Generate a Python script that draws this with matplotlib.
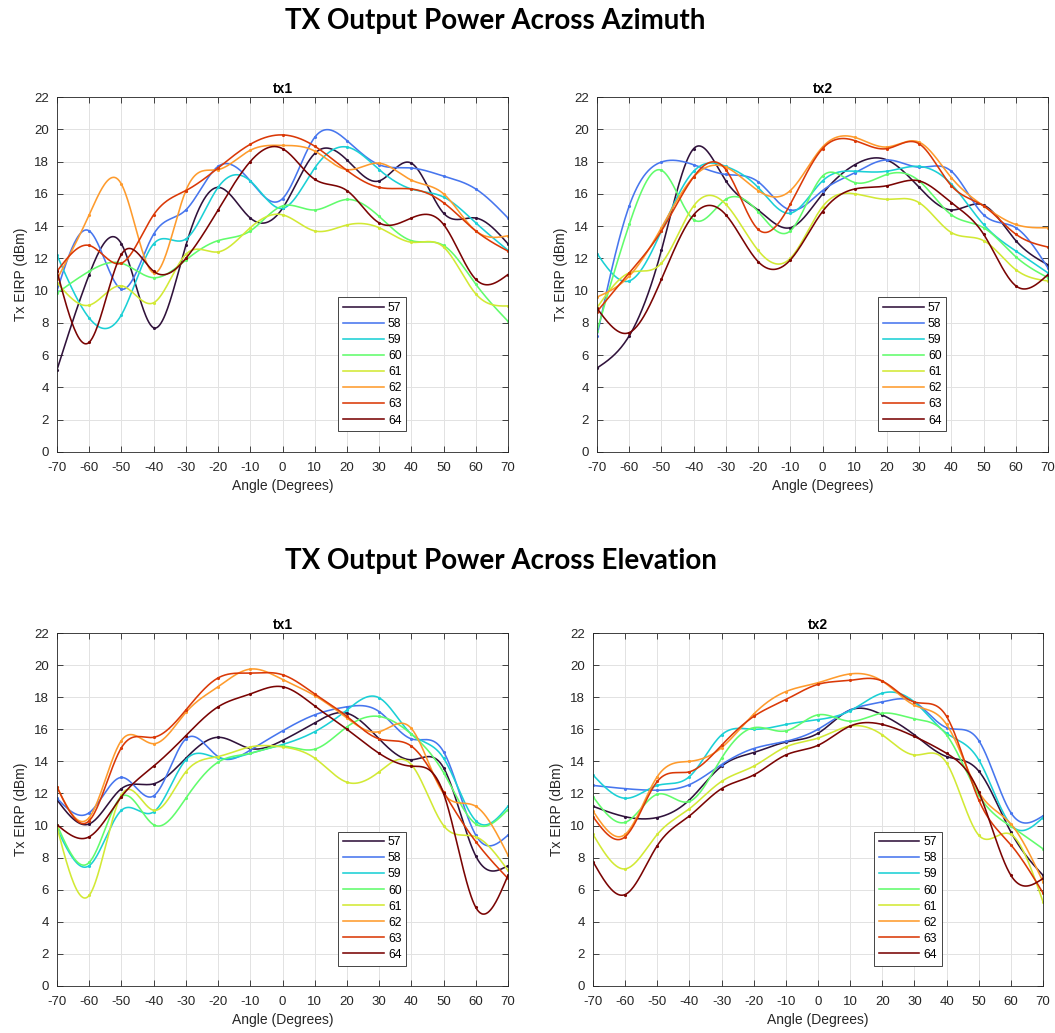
import numpy as np
import matplotlib
matplotlib.use('Agg')
import matplotlib.pyplot as plt

angles = np.arange(-70, 71, 10)
channels = ['57', '58', '59', '60', '61', '62', '63', '64']
panel_titles = ['tx1', 'tx2', 'tx1', 'tx2']
section_titles = ['TX Output Power Across Azimuth', 'TX Output Power Across Elevation']
xticks = np.arange(-70, 71, 10)
yticks = np.arange(0, 23, 2)

az_tx1 = [
    [5.1, 11.0, 12.9, 7.7, 12.8, 16.4, 14.5, 15.1, 18.5, 18.1, 16.8, 17.9, 14.8, 14.5, 12.9],
    [10.0, 13.7, 10.1, 13.5, 15.0, 17.7, 16.8, 15.7, 19.5, 19.3, 17.8, 17.6, 17.1, 16.3, 14.5],
    [12.2, 8.3, 8.5, 12.9, 13.2, 16.4, 16.8, 15.1, 17.6, 18.9, 17.5, 16.3, 15.8, 14.2, 12.5],
    [9.85, 11.2, 11.7, 10.8, 11.9, 13.1, 13.7, 15.25, 15.0, 15.65, 14.6, 13.1, 12.8, 10.4, 8.1],
    [10.5, 9.1, 10.3, 9.25, 12.25, 12.4, 13.9, 14.7, 13.7, 14.07, 13.9, 13.0, 12.7, 9.8, 9.05],
    [10.7, 14.7, 16.6, 11.1, 16.2, 17.5, 18.7, 19.0, 18.65, 17.5, 17.9, 16.85, 16.0, 13.7, 13.4],
    [11.2, 12.8, 11.7, 14.7, 16.2, 17.6, 19.07, 19.65, 18.95, 17.45, 16.4, 16.3, 15.45, 13.7, 12.45],
    [11.2, 6.8, 12.25, 11.2, 12.0, 15.0, 18.0, 18.8, 16.9, 16.2, 14.2, 14.5, 14.1, 10.7, 11.0],
]
az_tx2 = [
    [5.2, 7.2, 12.5, 18.8, 16.8, 15.0, 13.9, 16.0, 17.8, 18.1, 16.4, 15.0, 15.3, 13.1, 11.6],
    [7.2, 15.25, 17.97, 17.8, 17.2, 16.75, 15.0, 16.2, 17.3, 18.1, 17.65, 17.4, 14.7, 13.9, 11.4],
    [12.3, 10.6, 13.7, 17.4, 17.7, 16.4, 14.8, 16.8, 17.4, 17.4, 17.7, 16.6, 14.1, 12.46, 11.1],
    [7.5, 14.1, 17.46, 14.4, 15.66, 14.9, 13.7, 17.1, 16.7, 17.2, 16.8, 14.7, 13.9, 12.1, 10.8],
    [8.95, 11.1, 11.7, 15.25, 15.35, 12.5, 12.0, 15.2, 16.0, 15.66, 15.45, 13.6, 13.1, 11.3, 10.6],
    [9.6, 10.9, 13.9, 17.05, 17.65, 16.2, 16.2, 18.9, 19.5, 18.9, 19.2, 17.0, 15.25, 14.1, 13.9],
    [8.7, 11.1, 13.7, 17.05, 17.5, 13.8, 15.35, 18.8, 19.3, 18.8, 19.1, 16.5, 15.25, 13.5, 12.7],
    [8.9, 7.4, 10.7, 14.7, 14.7, 11.8, 11.9, 14.9, 16.3, 16.5, 16.8, 15.45, 13.5, 10.3, 11.0],
]
el_tx1 = [
    [11.6, 10.1, 12.3, 12.6, 14.2, 15.5, 14.8, 15.3, 16.4, 17.0, 15.4, 14.1, 13.6, 8.1, 7.5],
    [11.7, 10.8, 13.0, 11.85, 15.4, 14.3, 14.7, 15.9, 16.9, 17.4, 17.1, 15.4, 14.6, 9.4, 9.4],
    [9.8, 7.5, 10.95, 10.85, 14.1, 14.2, 14.5, 15.05, 15.85, 17.2, 17.96, 15.7, 14.2, 10.3, 11.2],
    [10.05, 7.7, 11.8, 10.05, 11.7, 13.95, 14.5, 14.95, 14.76, 16.15, 16.8, 15.7, 13.3, 10.1, 11.0],
    [9.9, 5.65, 11.9, 10.95, 13.35, 14.3, 14.9, 14.9, 14.2, 12.7, 13.35, 13.8, 10.0, 9.3, 7.2],
    [12.4, 10.5, 15.3, 15.1, 17.05, 18.65, 19.75, 19.1, 18.1, 16.7, 15.85, 16.05, 12.0, 11.2, 8.15],
    [12.4, 10.3, 14.85, 15.5, 17.2, 19.2, 19.5, 19.4, 18.2, 16.8, 15.4, 14.95, 12.1, 9.0, 6.7],
    [10.05, 9.3, 11.8, 13.7, 15.6, 17.4, 18.2, 18.65, 17.45, 16.0, 14.5, 13.7, 12.0, 4.9, 6.9],
]
el_tx2 = [
    [11.2, 10.55, 10.5, 11.6, 13.7, 14.55, 15.2, 15.75, 17.2, 16.9, 15.65, 14.3, 13.4, 9.6, 6.9],
    [12.5, 12.3, 12.2, 12.55, 13.8, 14.8, 15.25, 16.0, 17.2, 17.7, 17.7, 16.1, 15.3, 10.8, 10.6],
    [13.15, 11.7, 12.5, 13.05, 15.65, 16.0, 16.3, 16.6, 17.15, 18.25, 17.7, 15.75, 14.1, 10.05, 10.5],
    [11.8, 10.2, 11.95, 11.5, 14.2, 16.1, 15.9, 16.9, 16.5, 17.0, 16.65, 15.65, 11.9, 9.95, 8.55],
    [9.45, 7.3, 9.45, 11.05, 12.75, 13.7, 14.9, 15.45, 16.2, 15.65, 14.4, 13.9, 9.4, 9.45, 5.25],
    [10.9, 9.45, 13.05, 14.0, 14.85, 16.95, 18.35, 18.9, 19.45, 19.0, 17.5, 16.3, 12.1, 10.1, 6.5],
    [10.55, 9.3, 12.75, 13.35, 15.0, 16.8, 17.85, 18.8, 19.05, 19.0, 17.7, 16.8, 11.6, 8.8, 5.8],
    [7.75, 5.7, 8.75, 10.6, 12.3, 13.15, 14.4, 15.0, 16.2, 16.3, 15.55, 14.5, 12.1, 6.9, 6.7],
]


def smooth_line(x, y, n=600):
    """Natural cubic spline through the measured points (smooth line rendering)."""
    x = np.asarray(x, float)
    y = np.asarray(y, float)
    k = len(x)
    h = np.diff(x)
    A = np.zeros((k, k))
    b = np.zeros(k)
    A[0, 0] = 1.0
    A[-1, -1] = 1.0
    for i in range(1, k - 1):
        A[i, i - 1] = h[i - 1]
        A[i, i] = 2 * (h[i - 1] + h[i])
        A[i, i + 1] = h[i]
        b[i] = 6 * ((y[i + 1] - y[i]) / h[i] - (y[i] - y[i - 1]) / h[i - 1])
    M = np.linalg.solve(A, b)
    xs = np.linspace(x[0], x[-1], n)
    idx = np.clip(np.searchsorted(x, xs) - 1, 0, k - 2)
    x0, x1 = x[idx], x[idx + 1]
    hh = x1 - x0
    ys = (M[idx] * (x1 - xs) ** 3 / (6 * hh) + M[idx + 1] * (xs - x0) ** 3 / (6 * hh)
          + (y[idx] / hh - M[idx] * hh / 6) * (x1 - xs)
          + (y[idx + 1] / hh - M[idx + 1] * hh / 6) * (xs - x0))
    return xs, ys


plt.rcParams['font.family'] = ['Liberation Sans', 'DejaVu Sans']
plt.rcParams['axes.unicode_minus'] = False
W, H = 1055, 1033
fig = plt.figure(figsize=(W / 100, H / 100), dpi=100)
colors = plt.cm.turbo(np.linspace(0, 1, len(channels)))

# axes rectangles in pixels: left, top, right, bottom
rects = [(57, 97, 508, 452), (597, 97, 1048, 452), (57, 633, 508, 986), (593, 633, 1043, 986)]
datasets = [az_tx1, az_tx2, el_tx1, el_tx2]

for (l, t, r, btm), data, ttl in zip(rects, datasets, panel_titles):
    ax = fig.add_axes([l / W, (H - btm) / H, (r - l) / W, (btm - t) / H])
    for series, c, name in zip(data, colors, channels):
        xs, ys = smooth_line(angles, series)
        ax.plot(xs, ys, color=c, lw=1.15, label=name)
        ax.plot(angles, series, ls='none', marker='.', ms=2.5, color=c)
    ax.set_xlim(-70, 70)
    ax.set_ylim(0, 22)
    ax.set_xticks(xticks)
    ax.set_yticks(yticks)
    ax.grid(True, color='#e2e2e2', lw=0.7)
    ax.set_axisbelow(True)
    ax.tick_params(direction='in', top=True, right=True, length=4, width=0.6,
                   labelsize=9.5, colors='#262626')
    ax.tick_params(axis='x', pad=7)
    ax.tick_params(axis='y', pad=6)
    for s in ax.spines.values():
        s.set_color('#262626')
        s.set_linewidth(0.6)
    ax.set_title(ttl, fontsize=10, fontweight='bold', pad=3)
    ax.set_xlabel('Angle (Degrees)', fontsize=10, color='#262626', labelpad=4)
    ax.set_ylabel('Tx EIRP (dBm)', fontsize=10, color='#262626', labelpad=4)
    leg = ax.legend(loc='lower left', bbox_to_anchor=(0.624, 0.058), fontsize=8.8,
                    handlelength=3.3, labelspacing=0.33, borderpad=0.4, borderaxespad=0,
                    handletextpad=0.35, fancybox=False, framealpha=1, edgecolor='#262626')
    leg.get_frame().set_linewidth(0.6)

fig.text(285 / W, 1 - 29 / H, section_titles[0], ha='left', va='baseline',
         fontsize=20, fontweight='bold', family=['Lato', 'DejaVu Sans'])
fig.text(285 / W, 1 - 569 / H, section_titles[1], ha='left', va='baseline',
         fontsize=20, fontweight='bold', family=['Lato', 'DejaVu Sans'])

fig.savefig('out.png', dpi=100)
